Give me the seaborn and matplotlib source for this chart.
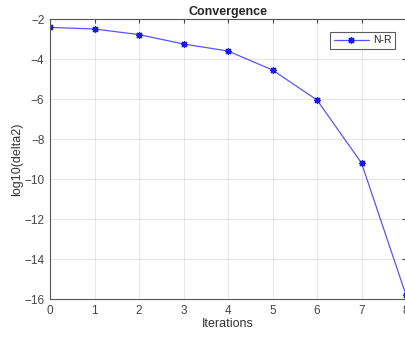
import matplotlib
matplotlib.use("Agg")
import matplotlib.pyplot as plt
import seaborn as sns
import pandas as pd

iterations = [0, 1, 2, 3, 4, 5, 6, 7, 8]
log_delta2 = [-2.42, -2.5, -2.78, -3.25, -3.6, -4.55, -6.05, -9.2, -15.8]
series_name = "N-R"

df = pd.DataFrame({"Iterations": iterations, "log10(delta2)": log_delta2, "method": series_name})

sns.set_style("white")
plt.rcParams["font.family"] = ["Liberation Sans", "DejaVu Sans"]

fig = plt.figure(figsize=(4.05, 3.38), dpi=100)
ax = fig.add_axes([50 / 405, 39 / 338, 356 / 405, 280 / 338])

sns.lineplot(data=df, x="Iterations", y="log10(delta2)", hue="method",
             palette=["#5555ff"], marker=(8, 2, 0), markersize=5,
             markeredgecolor="#1a1ae6", markeredgewidth=0.9,
             linewidth=0.9, ax=ax)

ax.set_xlim(0, 8)
ax.set_ylim(-16, -2)
ax.set_xticks(range(0, 9))
ax.set_yticks(range(-16, -1, 2))
ax.grid(True, color="#e6e6e6", linewidth=0.7)
ax.tick_params(direction="in", length=3, labelsize=8.5, colors="#444444",
               top=True, right=True, labelcolor="#444444", pad=4)
for s in ax.spines.values():
    s.set_color("#555555")
    s.set_linewidth(0.8)
ax.set_xlabel("Iterations", fontsize=9, color="#333333", labelpad=1)
ax.set_ylabel("log10(delta2)", fontsize=9, color="#333333", labelpad=1)
ax.set_title("Convergence", fontsize=9, fontweight="bold", pad=3)

leg = ax.legend(loc="upper right", bbox_to_anchor=(0.983, 0.971), fontsize=7.5,
                frameon=True, fancybox=False, handlelength=3.4,
                borderpad=0.3, handletextpad=0.4)
leg.get_frame().set_edgecolor("#333333")
leg.get_frame().set_linewidth(0.8)

fig.savefig("out.png", dpi=100)
